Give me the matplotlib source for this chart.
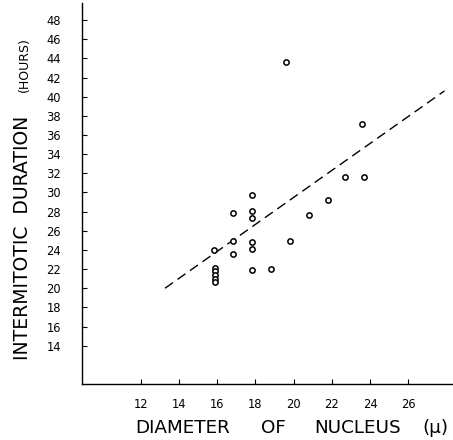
import matplotlib
matplotlib.use("Agg")
import matplotlib.pyplot as plt

# nucleus diameter (microns) and intermitotic duration (hours) per cell
diameter = [19.6, 23.6, 22.7, 23.7, 21.8, 20.8,
             17.8, 16.8, 17.8, 17.8, 16.8, 17.8, 17.8, 15.8, 16.8,
             17.8, 18.8, 19.8,
             15.9, 15.9, 15.9, 15.9, 15.9]
duration = [43.6, 37.1, 31.6, 31.6, 29.2, 27.6,
            29.7, 27.9, 28.1, 27.3, 24.9, 24.8, 24.1, 24.0, 23.6,
            21.9, 22.0, 24.9,
            22.1, 21.8, 21.4, 21.0, 20.6]

# end points of the fitted line
fit_x = [13.26, 27.9]
fit_y = [20.0, 40.6]

x_ticks = [12, 14, 16, 18, 20, 22, 24, 26]
y_ticks = list(range(14, 50, 2))

W, H = 453, 440
fig = plt.figure(figsize=(W / 100, H / 100), dpi=100)
ax = fig.add_axes([81.8 / W, 56 / H, 372.2 / W, 381.2 / H])

ax.plot(fit_x, fit_y, color="black", lw=1.0, dashes=(7, 4))
ax.plot(diameter, duration, "o", ms=3.8, mfc="white", mec="black", mew=1.1)

ax.set_xlim(8.9, 28.4)
ax.set_ylim(10, 49.8)
ax.set_xticks(x_ticks)
ax.set_yticks(y_ticks)
ax.tick_params(axis="both", direction="in", length=3.6, width=0.8,
               labelsize=8.3, colors="black")
ax.tick_params(axis="y", pad=15)
ax.tick_params(axis="x", pad=10)

for side in ("top", "right"):
    ax.spines[side].set_visible(False)
for side in ("left", "bottom"):
    ax.spines[side].set_linewidth(1.0)

# y axis title: large caps plus small caps units
fig.text(28 / W, (H - 360) / H, "INTERMITOTIC  DURATION", rotation=90,
         rotation_mode="anchor", ha="left", va="baseline", fontsize=13.5)
fig.text(28 / W, (H - 92) / H, "(HOURS)", rotation=90,
         rotation_mode="anchor", ha="left", va="baseline", fontsize=9)

# x axis title, words spread out
for word, cx in [("DIAMETER", 182.5), ("OF", 273.5),
                 ("NUCLEUS", 357.5), ("(\u03bc)", 435.5)]:
    fig.text(cx / W, (H - 432.7) / H, word, ha="center", va="baseline",
             fontsize=13.2)

fig.savefig("out.png", dpi=100, facecolor="white")
